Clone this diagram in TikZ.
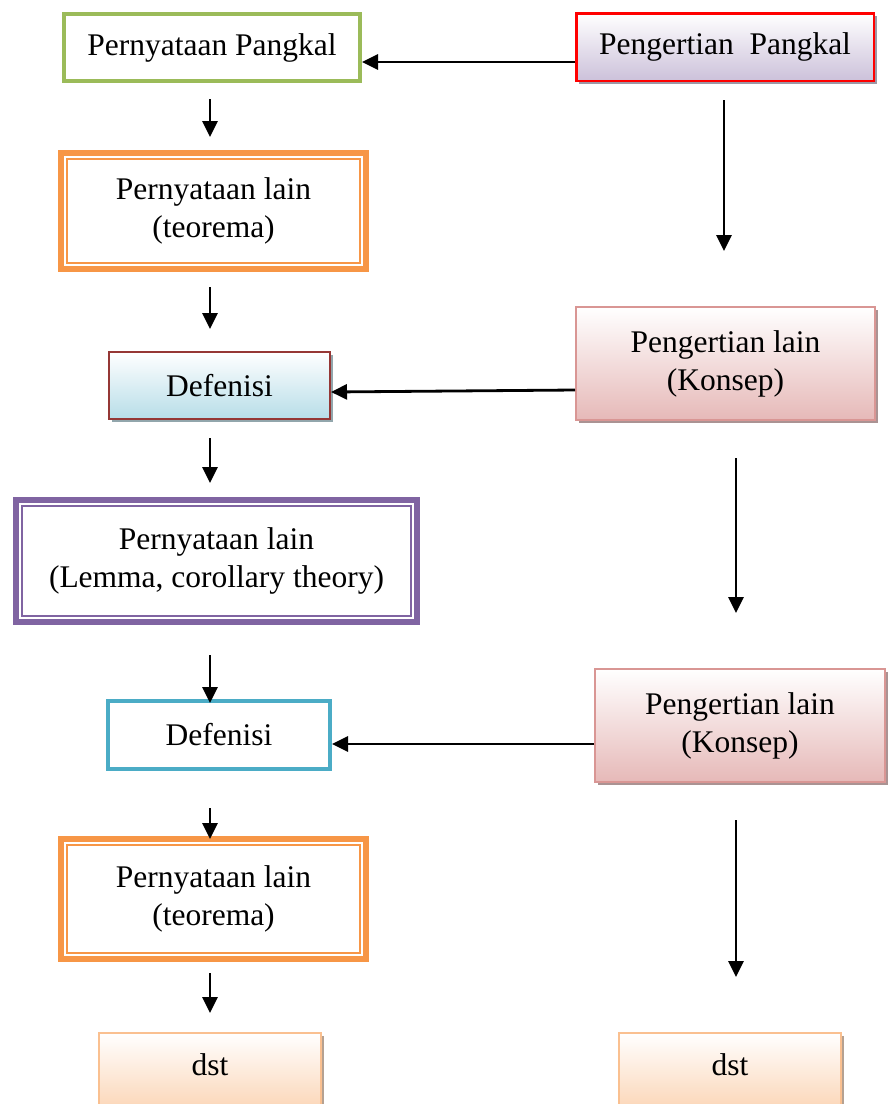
\documentclass[tikz,border=0pt]{standalone}
\usepackage{fontspec}
\setmainfont{Liberation Serif}
\usetikzlibrary{arrows.meta,shadows}
\definecolor{cgreen}{HTML}{9BBB59}
\definecolor{cred}{HTML}{FF0000}
\definecolor{clav}{HTML}{CCC1DA}
\definecolor{corange}{HTML}{F79646}
\definecolor{cdred}{HTML}{953735}
\definecolor{cblue}{HTML}{B7DDE8}
\definecolor{cpinkb}{HTML}{D99694}
\definecolor{cpink}{HTML}{E6B9B8}
\definecolor{cpurple}{HTML}{8064A2}
\definecolor{ccyan}{HTML}{4BACC6}
\definecolor{cpeachb}{HTML}{FAC090}
\definecolor{cpeach}{HTML}{FBD4B4}
\tikzset{
  box/.style={draw, rectangle, inner sep=0pt, align=center,
    font=\fontsize{31.5}{38}\selectfont},
  plain/.style={box, fill=white},
  dbl/.style={box, fill=white, line width=6pt, draw=#1,
    path picture={\draw[#1, line width=1.6pt]
      ([xshift=6pt,yshift=-6pt]path picture bounding box.north west) rectangle
      ([xshift=-6pt,yshift=6pt]path picture bounding box.south east);}},
  grad/.style 2 args={box, draw=#1, top color=white, bottom color=#2,
    drop shadow={shadow xshift=3pt, shadow yshift=-3pt, fill=#2!65!black, opacity=0.8}},
  arr/.style={line width=2.8pt, -{Triangle[length=16pt,width=15pt]}}
}
\begin{document}
\begin{tikzpicture}[x=1pt,y=-1pt]
\useasboundingbox (0,0) rectangle (887,1104);
% left column
\node[plain, draw=cgreen, line width=4pt, minimum width=296pt, minimum height=67pt] (pp) at (212,47.5) {Pernyataan Pangkal};
\node[dbl=corange, minimum width=305pt, minimum height=116pt] (t1) at (213.5,211) {Pernyataan lain\\(teorema)};
\node[grad={cdred}{cblue}, line width=2pt, minimum width=221pt, minimum height=67pt] (d1) at (219.5,385.5) {Defenisi};
\node[dbl=cpurple, minimum width=401pt, minimum height=122pt] (lm) at (216.5,561) {Pernyataan lain\\(Lemma, corollary theory)};
\node[plain, draw=ccyan, line width=4pt, minimum width=222pt, minimum height=68pt] (d2) at (219,735) {Defenisi};
\node[dbl=corange, minimum width=305pt, minimum height=120pt] (t2) at (213.5,899) {Pernyataan lain\\(teorema)};
\node[grad={cpeachb}{cpeach}, line width=2pt, minimum width=222pt, text height=42pt, text depth=38pt, text width=222pt] (s1) at (210,1032) [anchor=north] {dst};
% right column
\node[grad={cred}{clav}, line width=2.5pt, minimum width=297.5pt, minimum height=67.5pt] (pg) at (725,47) {Pengertian\ \ Pangkal};
\node[grad={cpinkb}{cpink}, line width=2pt, minimum width=299pt, minimum height=113pt] (k1) at (725.5,363.5) {Pengertian lain\\(Konsep)};
\node[grad={cpinkb}{cpink}, line width=2pt, minimum width=290pt, minimum height=113pt] (k2) at (740,725.5) {Pengertian lain\\(Konsep)};
\node[grad={cpeachb}{cpeach}, line width=2pt, minimum width=222pt, text height=42pt, text depth=38pt, text width=222pt] (s2) at (730,1032) [anchor=north] {dst};
% helper columns
\coordinate (lx) at (210,0);
\coordinate (rx1) at (724,0);
\coordinate (rx2) at (736,0);
% horizontal arrows
\draw[arr] ([yshift=-15pt]pg.west) -- ([yshift=-14.5pt]pp.east);
\draw[arr] ([yshift=-26.5pt]k1.west) -- ([yshift=-6.5pt]d1.east);
\draw[arr] ([yshift=-18.5pt]k2.west) -- ([yshift=-9pt]d2.east);
% left vertical arrows
\draw[arr, shorten <=16pt, shorten >=13pt] (pp.south -| lx) -- (t1.north -| lx);
\draw[arr, shorten <=15pt, shorten >=22pt] (t1.south -| lx) -- (d1.north -| lx);
\draw[arr, shorten <=18pt, shorten >=14pt] (d1.south -| lx) -- (lm.north -| lx);
\draw[arr, shorten <=30pt, shorten >=-4pt] (lm.south -| lx) -- (d2.north -| lx);
\draw[arr, shorten <=37pt, shorten >=-3pt] (d2.south -| lx) -- (t2.north -| lx);
\draw[arr, shorten <=11pt, shorten >=19pt] (t2.south -| lx) -- (s1.north -| lx);
% right vertical arrows
\draw[arr, shorten <=18pt, shorten >=55pt] (pg.south -| rx1) -- (k1.north -| rx1);
\draw[arr, shorten <=37pt, shorten >=55pt] (k1.south -| rx2) -- (k2.north -| rx2);
\draw[arr, shorten <=37pt, shorten >=55pt] (k2.south -| rx2) -- (s2.north -| rx2);
\end{tikzpicture}
\end{document}
